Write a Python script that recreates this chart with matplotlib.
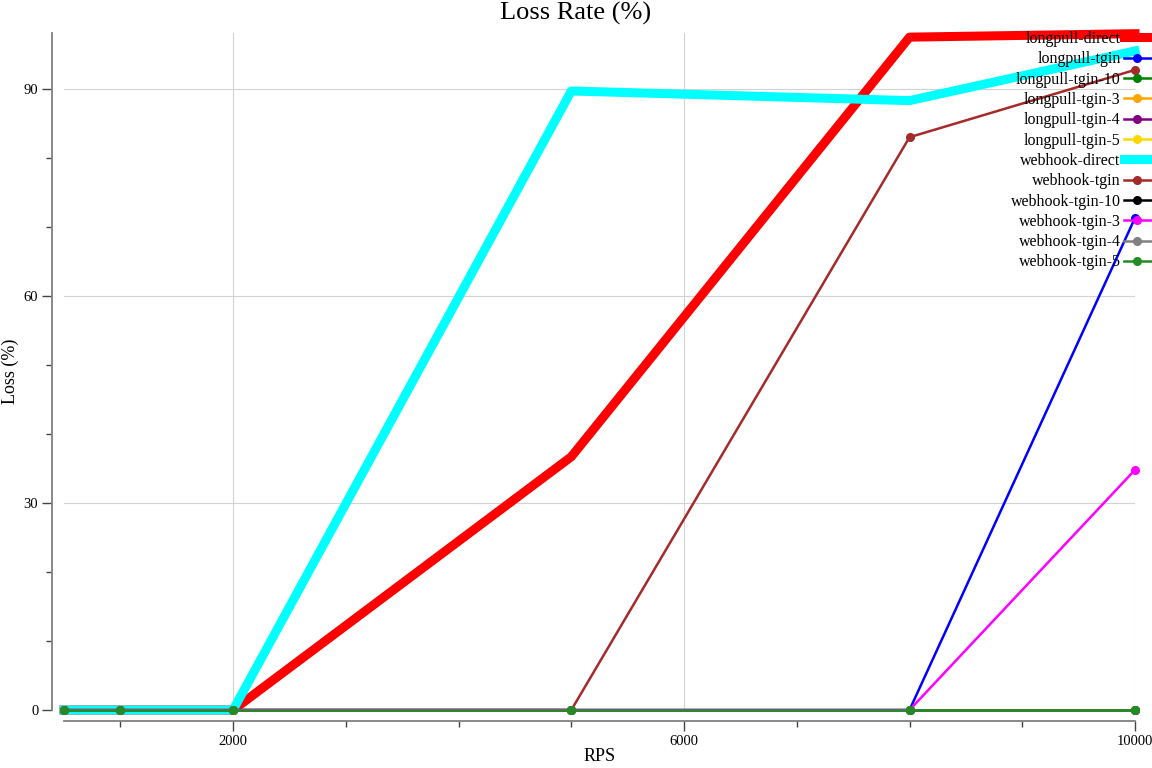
import matplotlib
matplotlib.use("Agg")
import matplotlib.pyplot as plt
from matplotlib.ticker import MultipleLocator

plt.rcParams["font.family"] = ["Liberation Serif", "DejaVu Serif"]

rps = [500, 1000, 2000, 5000, 8000, 10000]

longpull_direct = [0, 0, 0, 36.7, 97.5, 98.0]
longpull_tgin = [0, 0, 0, 0, 0, 71.3]
longpull_tgin_10 = [0, 0, 0, 0, 0, 0]
longpull_tgin_3 = [0, 0, 0, 0, 0, 0]
longpull_tgin_4 = [0, 0, 0, 0, 0, 0]
longpull_tgin_5 = [0, 0, 0, 0, 0, 0]
webhook_direct = [0, 0, 0, 89.7, 88.3, 95.5]
webhook_tgin = [0, 0, 0, 0, 83.0, 92.75]
webhook_tgin_10 = [0, 0, 0, 0, 0, 0]
webhook_tgin_3 = [0, 0, 0, 0, 0, 34.8]
webhook_tgin_4 = [0, 0, 0, 0, 0, 0]
webhook_tgin_5 = [0, 0, 0, 0, 0, 0]

x_ticks = [2000, 6000, 10000]
y_ticks = [0, 30, 60, 90]

series = [
    ("longpull-direct", longpull_direct, "#ff0000", True),
    ("longpull-tgin", longpull_tgin, "#0000ff", False),
    ("longpull-tgin-10", longpull_tgin_10, "#008000", False),
    ("longpull-tgin-3", longpull_tgin_3, "#ffa500", False),
    ("longpull-tgin-4", longpull_tgin_4, "#800080", False),
    ("longpull-tgin-5", longpull_tgin_5, "#ffd700", False),
    ("webhook-direct", webhook_direct, "#00ffff", True),
    ("webhook-tgin", webhook_tgin, "#a52a2a", False),
    ("webhook-tgin-10", webhook_tgin_10, "#000000", False),
    ("webhook-tgin-3", webhook_tgin_3, "#ff00ff", False),
    ("webhook-tgin-4", webhook_tgin_4, "#808080", False),
    ("webhook-tgin-5", webhook_tgin_5, "#228b22", False),
]

fig = plt.figure(figsize=(11.52, 7.68), dpi=100)
W, H = 1152, 768
ax = fig.add_axes([64 / W, (H - 710) / H, (1135 - 64) / W, (710 - 33) / H])

for name, vals, color, thick in series:
    if thick:
        ax.plot(rps, vals, color=color, lw=6.5, label=name, clip_on=False)
    else:
        ax.plot(rps, vals, color=color, lw=1.8, marker="o", ms=5.5,
                label=name, clip_on=False)

ax.set_xlim(500, 10000)
ax.set_ylim(0, 98.1)

ax.set_xticks(x_ticks)
ax.xaxis.set_minor_locator(MultipleLocator(1000))
ax.set_yticks(y_ticks)
ax.yaxis.set_minor_locator(MultipleLocator(10))

ax.grid(True, which="major", color="#d3d3d3", lw=0.8)
ax.set_axisbelow(True)

for s in ["top", "right"]:
    ax.spines[s].set_visible(False)
ax.spines["left"].set_position(("outward", 8.5))
ax.spines["bottom"].set_position(("outward", 8))
for s in ["left", "bottom"]:
    ax.spines[s].set_color("#808080")
    ax.spines[s].set_linewidth(1.3)

ax.tick_params(which="major", length=7, width=1, color="#444444",
               labelsize=10.5, pad=3)
ax.tick_params(which="minor", length=4, width=1, color="#444444")

ax.set_xlabel("RPS", fontsize=13, labelpad=0)
ax.set_ylabel("Loss (%)", fontsize=13)
ax.yaxis.set_label_coords((19 - 64) / (1135 - 64), 0.5)
fig.text(0.5, 1 - 13 / H, "Loss Rate (%)", ha="center", va="center",
         fontsize=19)

ax.legend(loc="upper right", bbox_to_anchor=(1151 / W, 1 - 31 / H),
          bbox_transform=fig.transFigure, frameon=False, markerfirst=False,
          fontsize=11.5, handlelength=1.7, handletextpad=0.2,
          labelspacing=0.27, borderpad=0, borderaxespad=0)

fig.savefig("out.png", dpi=100)
